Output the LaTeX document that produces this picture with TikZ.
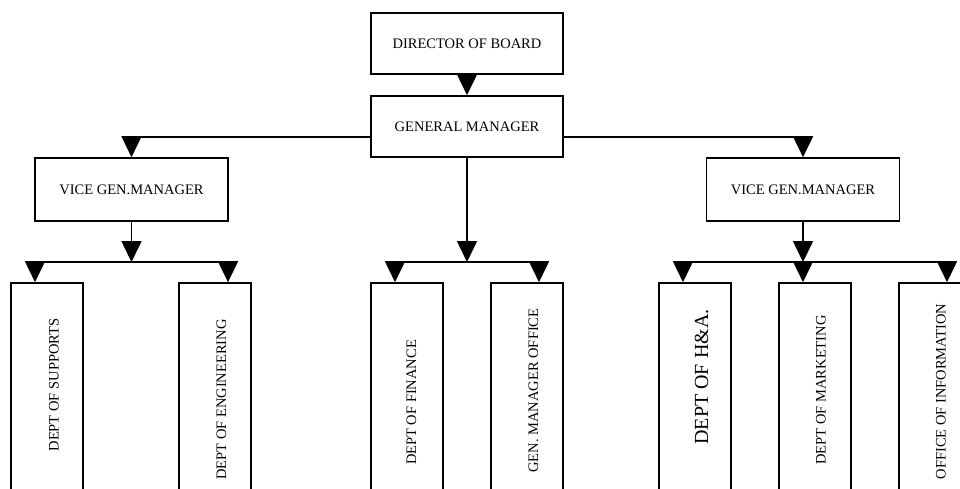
\documentclass[tikz,border=0pt]{standalone}
\usepackage{fontspec}
\setmainfont{Liberation Serif}
\usetikzlibrary{arrows.meta,calc}
\begin{document}
\begin{tikzpicture}[x=1pt,y=-1pt,line width=1.6pt,
  txt/.style={font=\fontsize{14.5}{17}\selectfont},
  box/.style={draw,rectangle,inner sep=0pt,txt},
  wbox/.style={box,minimum width=192pt,minimum height=61pt},
  vbox/.style={box,minimum width=193pt,minimum height=63pt},
  dbox/.style={box,minimum width=72pt,minimum height=227pt},
  vtxt/.style={txt,rotate=90,inner sep=0pt},
  arr/.style={-{Triangle[width=20pt,length=21pt]}}]
\useasboundingbox (0,0) rectangle (960,488);
\clip (0,0) rectangle (960,488);
% top boxes
\node[wbox] (dir) at (467,43.5) {DIRECTOR OF BOARD};
\node[wbox] (gm) at (467,126.5) {GENERAL MANAGER};
\node[vbox] (vl) at (131.5,189.5) {VICE GEN.MANAGER};
\node[vbox] (vr) at (803,189.5) {VICE GEN.MANAGER};
% department boxes
\node[dbox] (d1) at (47,396.5) {};
\node[dbox] (d2) at (215,396.5) {};
\node[dbox] (d3) at (407,396.5) {};
\node[dbox] (d4) at (527,396.5) {};
\node[dbox] (d5) at (695,396.5) {};
\node[dbox] (d6) at (815,396.5) {};
\node[dbox] (d7) at (935,396.5) {};
% department labels
\node[vtxt] (t1) at (54,385) {DEPT OF SUPPORTS};
\node[vtxt] (t2) at (221.5,399.5) {DEPT OF ENGINEERING};
\node[vtxt] (t3) at (411.5,402.5) {DEPT OF FINANCE};
\node[vtxt] (t4) at (533.5,390.5) {GEN. MANAGER OFFICE};
\node[vtxt,font=\fontsize{20}{24}\selectfont] (t5) at (701.5,377) {DEPT OF H\&A.};
\node[vtxt] (t6) at (821,390) {DEPT OF MARKETING};
\node[vtxt] (t7) at (941,391.5) {OFFICE OF INFORMATION};
% junction coordinates
\coordinate (jl) at (131.5,137);
\coordinate (jr) at (803,137);
\coordinate (bl) at (131.5,262);
\coordinate (bm) at (467,262);
\coordinate (br) at (803,262);
\coordinate (a1) at (35,262);
\coordinate (a2) at (228,262);
\coordinate (a3) at (395,262);
\coordinate (a4) at (539,262);
\coordinate (a5) at (683,262);
\coordinate (a6) at (803,262);
\coordinate (a7) at (947,262);
% connectors
\draw[arr] (dir.south) -- (gm.north);
\draw (gm.west |- jl) -- (jl);
\draw[arr] (jl) -- (vl.north);
\draw (gm.east |- jr) -- (jr);
\draw[arr] (jr) -- (vr.north);
\draw[arr] (vl.south) -- (bl);
\draw[arr] (gm.south) -- (bm);
\draw[arr] (vr.south) -- (br);
\draw (a1) -- (a2);
\draw (a3) -- (a4);
\draw (a5) -- (a7);
\draw[arr] (a1) -- (a1 |- d1.north);
\draw[arr] (a2) -- (a2 |- d2.north);
\draw[arr] (a3) -- (a3 |- d3.north);
\draw[arr] (a4) -- (a4 |- d4.north);
\draw[arr] (a5) -- (a5 |- d5.north);
\draw[arr] (a6) -- (a6 |- d6.north);
\draw[arr] (a7) -- (a7 |- d7.north);
\end{tikzpicture}
\end{document}
